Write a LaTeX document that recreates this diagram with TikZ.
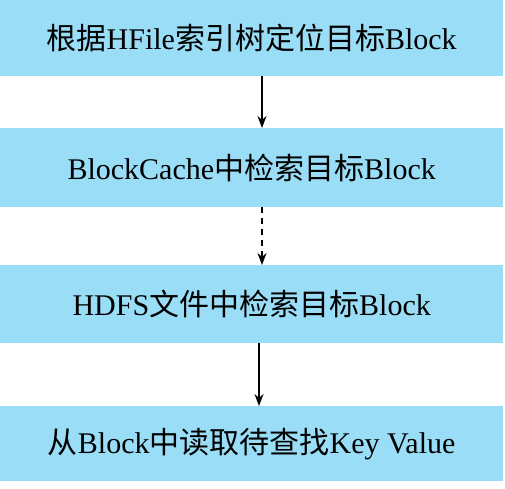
\documentclass[tikz,border=0pt]{standalone}
\usepackage{fontspec}
\setmainfont{Liberation Serif}
\newfontfamily\cjk{Noto Sans CJK SC}
\usetikzlibrary{arrows.meta}
\definecolor{boxblue}{RGB}{153,221,247}
\tikzset{
  stepbox/.style={fill=boxblue, draw=none, minimum width=503pt, inner sep=0pt, anchor=north west, font=\fontsize{30}{35}\selectfont},
  flow/.style={line width=1.4pt, -{Stealth[length=12pt,width=9pt]}},
}
\begin{document}
\begin{tikzpicture}[x=1pt,y=-1pt]
\useasboundingbox (0,0) rectangle (505,488);
\node[stepbox, minimum height=76pt] (b1) at (0,0) {{\cjk 根据}HFile{\cjk 索引树定位目标}Block};
\node[stepbox, minimum height=79pt] (b2) at (0,128) {BlockCache{\cjk 中检索目标}Block};
\node[stepbox, minimum height=78pt] (b3) at (0,265) {HDFS{\cjk 文件中检索目标}Block};
\node[stepbox, minimum height=75pt] (b4) at (0,406) {{\cjk 从}Block{\cjk 中读取待查找}Key Value};
\coordinate (a1s) at (262,76);
\coordinate (a1e) at (262,128);
\coordinate (a2s) at (262,207);
\coordinate (a2e) at (262,265);
\coordinate (a3s) at (259,343);
\coordinate (a3e) at (259,406);
\draw[flow] (a1s) -- (a1e);
\draw[flow, dash pattern=on 6pt off 5pt] (a2s) -- (a2e);
\draw[flow] (a3s) -- (a3e);
\end{tikzpicture}
\end{document}
